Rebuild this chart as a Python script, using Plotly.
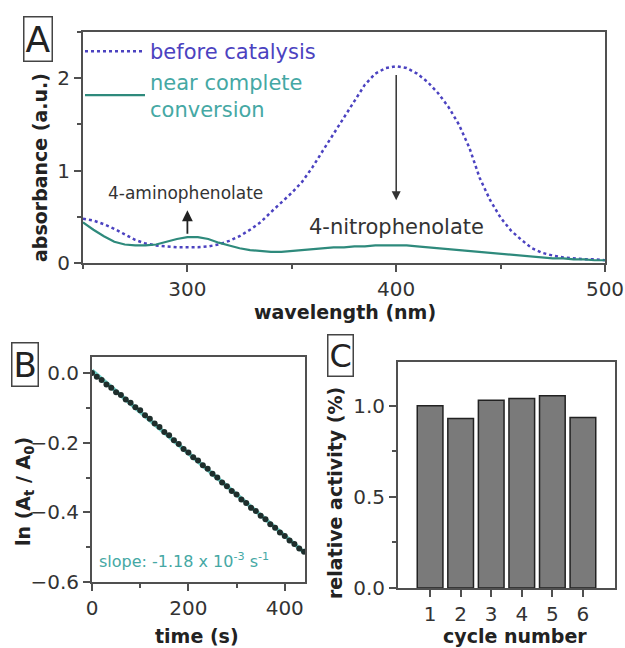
import numpy as np
import plotly.graph_objects as go

# ---------------- data ----------------
wavelength = list(range(250, 505, 5))
before_catalysis = [0.48, 0.46, 0.42, 0.37, 0.31, 0.25, 0.21, 0.19, 0.18, 0.17,
                    0.17, 0.17, 0.18, 0.20, 0.24, 0.29, 0.36, 0.44, 0.55, 0.65,
                    0.76, 0.88, 1.04, 1.22, 1.40, 1.58, 1.76, 1.93, 2.05, 2.11,
                    2.13, 2.11, 2.05, 1.96, 1.84, 1.69, 1.50, 1.25, 0.92, 0.68,
                    0.49, 0.35, 0.25, 0.16, 0.11, 0.08, 0.06, 0.05, 0.04, 0.04, 0.03]
near_complete = [0.44, 0.36, 0.29, 0.23, 0.20, 0.19, 0.19, 0.20, 0.23, 0.26,
                 0.28, 0.28, 0.26, 0.22, 0.19, 0.16, 0.14, 0.13, 0.12, 0.12,
                 0.13, 0.14, 0.15, 0.16, 0.17, 0.17, 0.18, 0.18, 0.19, 0.19,
                 0.19, 0.19, 0.18, 0.17, 0.16, 0.15, 0.14, 0.13, 0.12, 0.11,
                 0.10, 0.09, 0.08, 0.07, 0.06, 0.05, 0.05, 0.04, 0.04, 0.03, 0.03]

time_s = list(range(0, 450, 10))
ln_ratio = [0.000, -0.011, -0.020, -0.033, -0.042, -0.055, -0.063, -0.076, -0.085, -0.098,
            -0.107, -0.121, -0.131, -0.145, -0.155, -0.169, -0.179, -0.193, -0.204, -0.218,
            -0.228, -0.242, -0.251, -0.265, -0.275, -0.289, -0.300, -0.314, -0.325, -0.339,
            -0.349, -0.363, -0.373, -0.387, -0.396, -0.410, -0.420, -0.434, -0.444, -0.458,
            -0.468, -0.481, -0.491, -0.504, -0.513]

cycles = [1, 2, 3, 4, 5, 6]
relative_activity = [1.00, 0.93, 1.03, 1.04, 1.055, 0.935]

# ---------------- style ----------------
FONT = "DejaVu Sans"
BLUE = "#4b42c0"
TEAL = "#2e8a7c"
TEAL_TXT = "#45a8a4"
AXC = "#505050"
TICKF = dict(family=FONT, size=20, color="#333333")
TITLEF = dict(family=FONT, size=19, color="#222222")

fig = go.Figure()

# Panel A
fig.add_trace(go.Scatter(x=wavelength, y=before_catalysis, mode="lines",
                         line=dict(color=BLUE, width=2.5, dash="dot"),
                         name=f"<span style='color:{BLUE}'>before catalysis</span>",
                         xaxis="x", yaxis="y"))
fig.add_trace(go.Scatter(x=wavelength, y=near_complete, mode="lines",
                         line=dict(color=TEAL, width=2.2),
                         name=f"<span style='color:{TEAL_TXT}'>near complete<br>conversion</span>",
                         xaxis="x", yaxis="y"))

# Panel B
coef = np.polyfit(time_s, ln_ratio, 1)
fit_t = [time_s[0], time_s[-1]]
fig.add_trace(go.Scatter(x=fit_t, y=[coef[0] * t + coef[1] for t in fit_t], mode="lines",
                         line=dict(color="#6fd0c8", width=4), showlegend=False,
                         xaxis="x2", yaxis="y2"))
fig.add_trace(go.Scatter(x=time_s, y=ln_ratio, mode="markers",
                         marker=dict(color="#1e2e2c", size=6), showlegend=False,
                         xaxis="x2", yaxis="y2"))

# Panel C
fig.add_trace(go.Bar(x=cycles, y=relative_activity, width=0.84,
                     marker=dict(color="#7a7a7a", line=dict(color="#222222", width=1.5)),
                     showlegend=False, xaxis="x3", yaxis="y3"))

W, H = 625, 648
def px(x): return x / W
def py(y): return 1 - y / H

common = dict(showline=True, linecolor=AXC, linewidth=2, mirror=True,
              ticks="outside", ticklen=7, tickwidth=1.5, tickcolor=AXC,
              showgrid=False, zeroline=False, tickfont=TICKF, automargin=False)

fig.update_layout(
    width=W, height=H, margin=dict(l=0, r=0, t=0, b=0, autoexpand=False),
    paper_bgcolor="white", plot_bgcolor="white",
    xaxis=dict(domain=[px(83), px(605)], range=[250, 500], anchor="y",
               tickvals=[300, 400, 500], minor=dict(ticks="outside", ticklen=4, dtick=50, tick0=250, tickcolor=AXC),
               **common),
    yaxis=dict(domain=[py(263), py(32)], range=[0, 2.5], anchor="x",
               tickvals=[0, 1, 2], minor=dict(ticks="outside", ticklen=4, dtick=0.5, tickcolor=AXC),
               **common),
    xaxis2=dict(domain=[px(92), px(305)], range=[0, 442], anchor="y2",
                tickvals=[0, 200, 400], minor=dict(ticks="outside", ticklen=4, dtick=100, tickcolor=AXC),
                **common),
    yaxis2=dict(domain=[py(582), py(357)], range=[-0.6, 0.046], anchor="x2",
                tickvals=[0, -0.2, -0.4, -0.6], tickformat=".1f",
                minor=dict(ticks="outside", ticklen=4, dtick=0.1, tickcolor=AXC),
                **common),
    xaxis3=dict(domain=[px(398), px(615)], range=[-0.05, 7.05], anchor="y3",
                tickvals=cycles, **common),
    yaxis3=dict(domain=[py(588), py(362)], range=[0, 1.24], anchor="x3",
                tickvals=[0, 0.5, 1.0], tickformat=".1f",
                minor=dict(ticks="outside", ticklen=4, dtick=0.25, tickcolor=AXC),
                **common),
    legend=dict(x=px(80), y=py(31), xanchor="left", yanchor="top",
                bgcolor="rgba(0,0,0,0)", font=dict(family=FONT, size=21),
                itemwidth=60, tracegroupgap=0),
    bargap=0.16,
)

# axis titles
for txt, x0, y0, ang in [("<b>absorbance (a.u.)</b>", 40, 168, -90),
                         ("<b>wavelength (nm)</b>", 345, 312, 0),
                         ("<b>ln (A<sub>t</sub> / A<sub>0</sub>)</b>", 24, 492, -90),
                         ("<b>time (s)</b>", 197, 636, 0),
                         ("<b>relative activity (%)</b>", 335, 493, -90),
                         ("<b>cycle number</b>", 515, 636, 0)]:
    fig.add_annotation(text=txt, x=px(x0), y=py(y0), xref="paper", yref="paper",
                       showarrow=False, textangle=ang, font=TITLEF,
                       xanchor="center", yanchor="middle")

# panel labels
for lab, x0, y0, sz in [("A", 38, 39, 36), ("B", 25, 364, 34), ("C", 340, 355, 32)]:
    fig.add_annotation(text=lab, x=px(x0), y=py(y0), xref="paper", yref="paper",
                       xanchor="center", yanchor="middle",
                       showarrow=False, font=dict(family=FONT, size=sz, color="#222222"),
                       bordercolor="#444444", borderwidth=1.5, borderpad=1, bgcolor="white")

# panel A annotations
fig.add_annotation(text="4-aminophenolate", x=299, y=0.76, xref="x", yref="y", showarrow=False,
                   font=dict(family=FONT, size=17, color="#333333"))
fig.add_annotation(x=300, y=0.57, ax=300, ay=0.30, xref="x", yref="y", axref="x", ayref="y",
                   showarrow=True, arrowhead=2, arrowsize=1.2, arrowwidth=1.8, arrowcolor="#222222", text="")
fig.add_annotation(text="4-nitrophenolate", x=400, y=0.39, xref="x", yref="y", showarrow=False,
                   font=dict(family=FONT, size=21, color="#333333"))
fig.add_annotation(x=400, y=0.68, ax=400, ay=2.05, xref="x", yref="y", axref="x", ayref="y",
                   showarrow=True, arrowhead=2, arrowsize=1.2, arrowwidth=1.5, arrowcolor="#333333", text="")

# panel B slope label
fig.add_annotation(text="slope: -1.18 x 10<sup>-3</sup> s<sup>-1</sup>", x=px(97), y=py(560),
                   xref="paper", yref="paper", xanchor="left", yanchor="middle", showarrow=False,
                   font=dict(family=FONT, size=16, color=TEAL_TXT))

fig.write_html("out.html", config={"displayModeBar": False},
               post_script="document.body.style.margin='0px';document.body.style.overflow='hidden';")
